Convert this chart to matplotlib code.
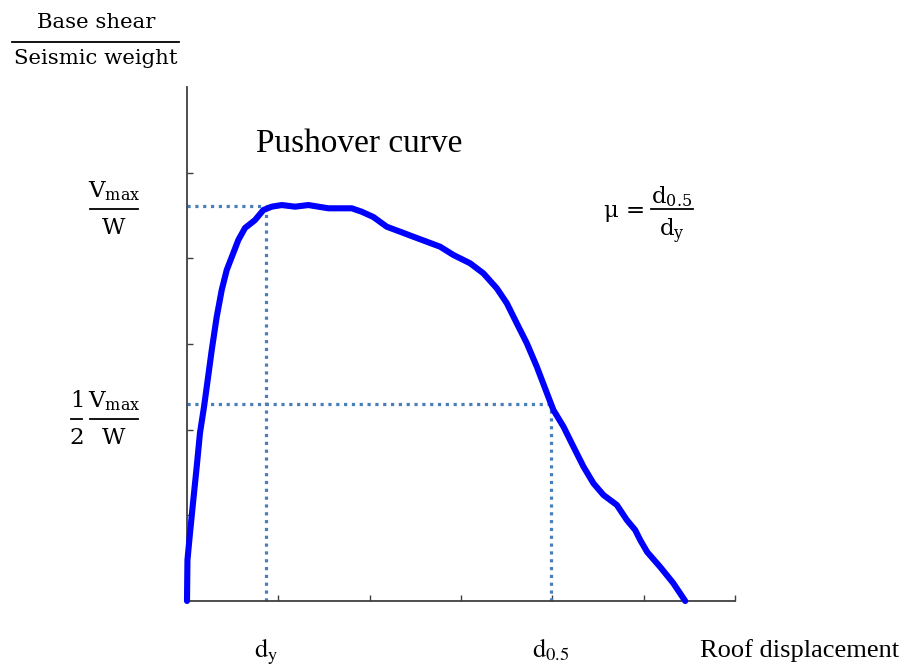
"""
Pushover curve sketch: base shear ratio vs roof displacement
Output: out.png
"""

import matplotlib
matplotlib.use("Agg")
import matplotlib.pyplot as plt
from matplotlib.lines import Line2D

# Pushover curve (axis units, 6 x 6 grid)
disp = [0.0, 0.005, 0.033, 0.069, 0.106, 0.142, 0.186, 0.216, 0.271, 0.325,
        0.380, 0.435, 0.490, 0.562, 0.635, 0.745, 0.836, 0.928, 1.037, 1.183,
        1.329, 1.438, 1.548, 1.804, 1.913, 2.041, 2.187, 2.333, 2.479, 2.625,
        2.771, 2.917, 3.100, 3.245, 3.392, 3.502, 3.611, 3.721, 3.830, 3.940,
        4.012, 4.122, 4.231, 4.341, 4.450, 4.560, 4.706, 4.816, 4.907, 4.962,
        5.038, 5.181, 5.323, 5.455]
shear = [0.0, 0.479, 0.794, 1.179, 1.564, 1.961, 2.264, 2.498, 2.930, 3.315,
         3.630, 3.864, 4.015, 4.214, 4.354, 4.447, 4.564, 4.603, 4.622, 4.603,
         4.622, 4.603, 4.584, 4.584, 4.544, 4.482, 4.369, 4.311, 4.252, 4.194,
         4.136, 4.039, 3.942, 3.825, 3.650, 3.475, 3.241, 3.008, 2.735, 2.428,
         2.229, 2.035, 1.801, 1.568, 1.374, 1.237, 1.121, 0.945, 0.829, 0.712,
         0.572, 0.397, 0.210, 0.0]

# key points of the curve
vmax_w = 4.61       # Vmax / W
half_vmax_w = 2.30  # 1/2 Vmax / W
d_y = 0.865         # yield displacement
d_half = 3.98       # displacement at 0.5 Vmax

x_ticks = [1, 2, 3, 4, 5, 6]
y_ticks = [1, 2, 3, 4, 5]

W, H = 904, 667
fig = plt.figure(figsize=(W / 100, H / 100), dpi=100)


def fx(x):
    return x / W


def fy(y):
    return 1 - y / H


ax = fig.add_axes([fx(187), fy(601), fx(735) - fx(187), fy(87) - fy(601)])
ax.set_xlim(0, 6)
ax.set_ylim(0, 6)

# dotted guide lines
dot_color = "#4A7EBB"
dot_kw = dict(color=dot_color, lw=2.3, linestyle=(0, (1, 1.45)),
              dash_capstyle="butt", zorder=2, clip_on=False)
ax.plot([0, 1.03], [vmax_w, vmax_w], **dot_kw)
ax.plot([d_y, d_y], [0, vmax_w], **dot_kw)
ax.plot([0, d_half], [half_vmax_w, half_vmax_w], **dot_kw)
ax.plot([d_half, d_half], [0, half_vmax_w], **dot_kw)

# pushover curve
ax.plot(disp, shear, color="#0000FF", lw=4.4, solid_capstyle="round",
        solid_joinstyle="round", zorder=3, clip_on=False)

# spines and ticks
for side in ["top", "right"]:
    ax.spines[side].set_visible(False)
for side in ["left", "bottom"]:
    ax.spines[side].set_color("#404040")
    ax.spines[side].set_linewidth(1.3)
ax.set_xticks(x_ticks)
ax.set_yticks(y_ticks)
ax.tick_params(direction="in", length=4, width=1.0, color="#404040",
               labelbottom=False, labelleft=False)

# text
cam = dict(family="DejaVu Serif", color="black")
tim = dict(family="Liberation Serif", color="black")


def bar(x0, x1, y, lw=1.3):
    fig.add_artist(Line2D([fx(x0), fx(x1)], [fy(y), fy(y)],
                          transform=fig.transFigure, color="black", lw=lw))


# y-axis title as a fraction
fig.text(fx(96), fy(28), "Base shear", ha="center", va="baseline", fontsize=15.3, **cam)
bar(12, 179, 42)
fig.text(fx(96), fy(64), "Seismic weight", ha="center", va="baseline", fontsize=15.3, **cam)

# Vmax / W
fig.text(fx(114), fy(197), r"$\mathrm{V}_{\mathrm{max}}$", ha="center", va="baseline",
         fontsize=16.5, math_fontfamily="dejavuserif")
bar(90, 138, 209)
fig.text(fx(114), fy(234), "W", ha="center", va="baseline", fontsize=16.5, **cam)

# 1/2 Vmax / W
fig.text(fx(77), fy(407), "1", ha="center", va="baseline", fontsize=16.5, **cam)
bar(71, 82, 419)
fig.text(fx(77), fy(444), "2", ha="center", va="baseline", fontsize=16.5, **cam)
fig.text(fx(114), fy(407), r"$\mathrm{V}_{\mathrm{max}}$", ha="center", va="baseline",
         fontsize=16.5, math_fontfamily="dejavuserif")
bar(90, 138, 419)
fig.text(fx(114), fy(444), "W", ha="center", va="baseline", fontsize=16.5, **cam)

# ductility
fig.text(fx(604), fy(217), "μ =", ha="left", va="baseline", fontsize=16.5, **cam)
fig.text(fx(672), fy(203), r"$\mathrm{d}_{\mathrm{0.5}}$", ha="center", va="baseline",
         fontsize=16.5, math_fontfamily="dejavuserif")
bar(651, 693, 209)
fig.text(fx(672), fy(236), r"$\mathrm{d}_{\mathrm{y}}$", ha="center", va="baseline",
         fontsize=16.5, math_fontfamily="dejavuserif")

# chart title
fig.text(fx(359), fy(152), "Pushover curve", ha="center", va="baseline", fontsize=24, **tim)

# x-axis labels
fig.text(fx(254), fy(657), r"$\mathrm{d}_{\mathrm{y}}$", ha="left", va="baseline",
         fontsize=19, math_fontfamily="stix")
fig.text(fx(532), fy(657), r"$\mathrm{d}_{\mathrm{0.5}}$", ha="left", va="baseline",
         fontsize=19, math_fontfamily="stix")
fig.text(fx(700), fy(657), "Roof displacement", ha="left", va="baseline", fontsize=19, **tim)

fig.savefig("out.png", dpi=100)
